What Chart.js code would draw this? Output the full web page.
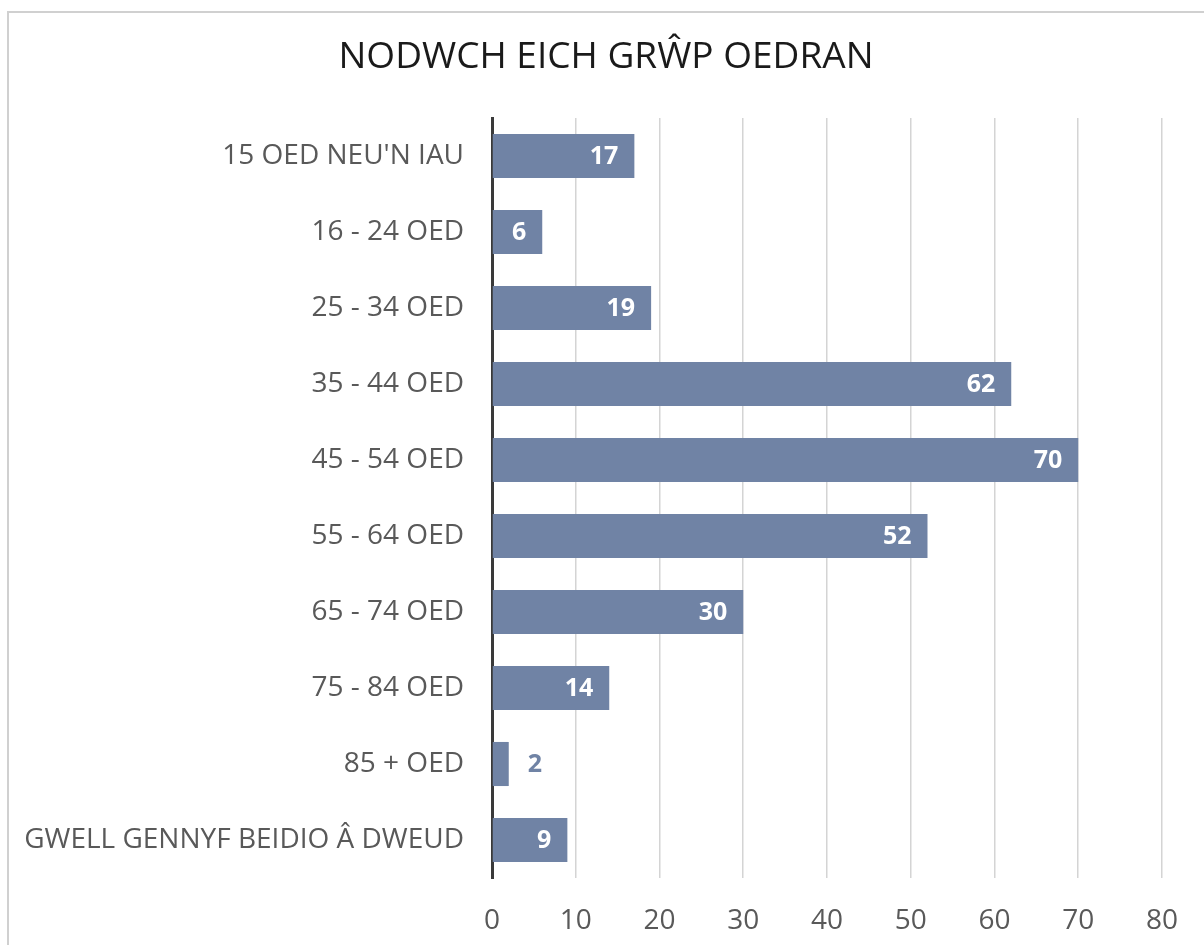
<!DOCTYPE html>
<html>
<head>
<meta charset="utf-8">
<script src="https://cdn.jsdelivr.net/npm/chart.js@4/dist/chart.umd.min.js"></script>
<style>
html,body{margin:0;padding:0;background:#fff;overflow:hidden;}
#wrap{position:absolute;left:0;top:0;width:1204px;height:945px;}
</style>
</head>
<body>
<div id="wrap"><canvas id="c" width="1204" height="945"></canvas></div>
<script>
const titleText = 'NODWCH EICH GRŴP OEDRAN';
const categories = ["15 OED NEU'N IAU", '16 - 24 OED', '25 - 34 OED', '35 - 44 OED', '45 - 54 OED', '55 - 64 OED', '65 - 74 OED', '75 - 84 OED', '85 + OED', 'GWELL GENNYF BEIDIO Â DWEUD'];
const counts = [17, 6, 19, 62, 70, 52, 30, 14, 2, 9];
const xTicks = [0, 10, 20, 30, 40, 50, 60, 70, 80];

const barColor = '#7083a5';

const frame = {
  id: 'frame',
  beforeDraw(chart) {
    const ctx = chart.ctx;
    ctx.save();
    ctx.fillStyle = '#fff';
    ctx.fillRect(0, 0, chart.width, chart.height);
    ctx.strokeStyle = '#d0d0d0';
    ctx.lineWidth = 2;
    ctx.beginPath();
    ctx.moveTo(8, chart.height + 5);
    ctx.lineTo(8, 12);
    ctx.lineTo(chart.width + 5, 12);
    ctx.stroke();
    ctx.restore();
  }
};

const chartTitle = {
  id: 'chartTitle',
  afterDraw(chart) {
    const ctx = chart.ctx;
    ctx.save();
    ctx.font = '37px "Open Sans", sans-serif';
    ctx.fillStyle = '#1a1a1a';
    ctx.textAlign = 'center';
    ctx.textBaseline = 'middle';
    ctx.fillText(titleText, 606, 57);
    ctx.restore();
  }
};

const valueLabels = {
  id: 'valueLabels',
  afterDatasetsDraw(chart) {
    const ctx = chart.ctx;
    const meta = chart.getDatasetMeta(0);
    ctx.save();
    ctx.font = 'bold 25px "Open Sans", sans-serif';
    ctx.textBaseline = 'middle';
    meta.data.forEach((bar, i) => {
      const v = chart.data.datasets[0].data[i];
      const txt = String(v);
      const w = ctx.measureText(txt).width;
      const len = bar.x - bar.base;
      if (len > w + 24) {
        ctx.fillStyle = '#ffffff';
        ctx.textAlign = 'right';
        ctx.fillText(txt, bar.x - 16, bar.y + 1);
      } else {
        ctx.fillStyle = barColor;
        ctx.textAlign = 'left';
        ctx.fillText(txt, bar.x + 19, bar.y + 1);
      }
    });
    ctx.restore();
  }
};

new Chart(document.getElementById('c'), {
  type: 'bar',
  data: {
    labels: categories,
    datasets: [{
      data: counts,
      backgroundColor: barColor,
      borderWidth: 0,
      barPercentage: 0.58,
      categoryPercentage: 1.0
    }]
  },
  options: {
    indexAxis: 'y',
    responsive: false,
    animation: false,
    devicePixelRatio: 1,
    layout: { padding: { left: 0, right: 38, top: 118, bottom: 0 } },
    plugins: {
      legend: { display: false },
      tooltip: { enabled: false },
      title: { display: false }
    },
    scales: {
      x: {
        min: 0,
        max: 80,
        afterBuildTicks(scale) { scale.ticks = xTicks.map(v => ({ value: v })); },
        grid: { color: '#d4d4d4', lineWidth: 1.5, drawTicks: false },
        border: { display: false },
        ticks: {
          color: '#595959',
          font: { family: '"Open Sans", sans-serif', size: 28 },
          padding: 26,
          maxRotation: 0
        },
        afterFit(scale) { scale.height = 67; }
      },
      y: {
        grid: { display: false },
        border: { display: true, color: '#3a3a3a', width: 3 },
        ticks: {
          color: '#595959',
          font: { family: '"Open Sans", sans-serif', size: 28 },
          padding: 20,
          autoSkip: false
        },
        afterFit(scale) { scale.width = 492; }
      }
    }
  },
  plugins: [frame, chartTitle, valueLabels]
});
</script>
</body>
</html>
